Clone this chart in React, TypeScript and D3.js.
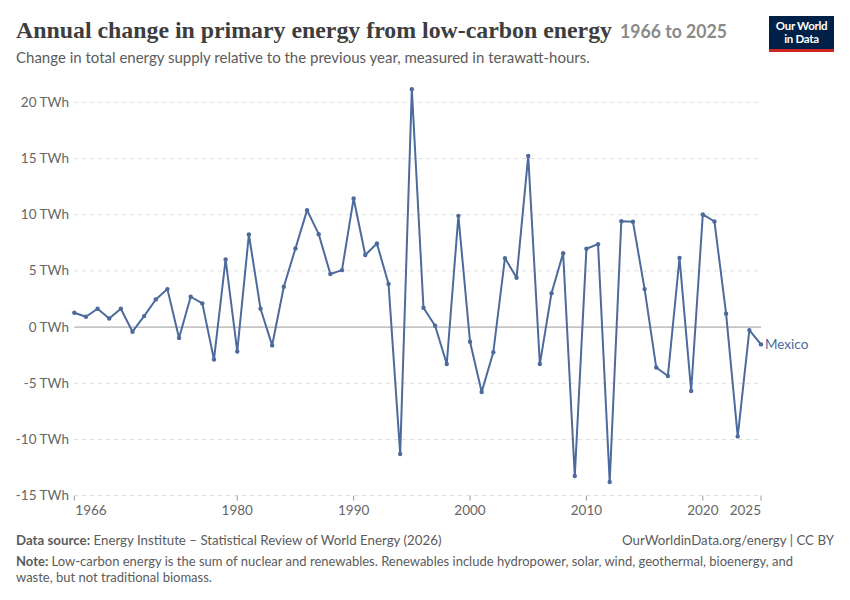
import React, { useRef, useEffect } from 'react';
import * as d3 from 'd3';

const years = d3.range(1966, 2026);
// Annual change in low-carbon primary energy, Mexico (TWh)
const values = [
  1.27, 0.92, 1.63, 0.77, 1.63, -0.41, 0.98, 2.46, 3.38, -0.98,
  2.7, 2.11, -2.88, 6.02, -2.17, 8.24, 1.63, -1.63, 3.59, 7.0,
  10.41, 8.27, 4.72, 5.07, 11.45, 6.41, 7.44, 3.83, -11.3, 21.17,
  1.72, 0.12, -3.29, 9.9, -1.3, -5.78, -2.24, 6.14, 4.39, 15.24,
  -3.29, 3.02, 6.58, -13.26, 6.97, 7.38, -13.79, 9.43, 9.37, 3.38,
  -3.6, -4.35, 6.15, -5.69, 10.03, 9.4, 1.19, -9.73, -0.27, -1.54,
];
const yTicks = [-15, -10, -5, 0, 5, 10, 15, 20];
const xTicks = [1966, 1980, 1990, 2000, 2010, 2020, 2025];
const seriesName = 'Mexico';

const W = 850;
const H = 600;
const LINE = '#4c6a9c';

const App: React.FC = () => {
  const ref = useRef<SVGSVGElement | null>(null);

  useEffect(() => {
    if (!ref.current) return;
    const svg = d3.select(ref.current);
    svg.selectAll('*').remove();

    const margin = { top: 102.4, right: 89, bottom: 104.4, left: 74.3 };
    const x = d3
      .scaleLinear()
      .domain([1966, 2025])
      .range([margin.left, W - margin.right]);
    const y = d3
      .scaleLinear()
      .domain([-15, 20])
      .range([H - margin.bottom, margin.top]);

    svg.append('rect').attr('width', W).attr('height', H).attr('fill', '#fff');

    // Header
    svg
      .append('text')
      .attr('x', 16)
      .attr('y', 38)
      .attr('font-family', 'Liberation Serif, serif')
      .attr('font-weight', 'bold')
      .attr('font-size', 24)
      .attr('fill', '#3d3d3d')
      .attr('textLength', 596)
      .attr('lengthAdjust', 'spacingAndGlyphs')
      .text('Annual change in primary energy from low-carbon energy');
    svg
      .append('text')
      .attr('x', 620)
      .attr('y', 38)
      .attr('font-family', 'Lato, sans-serif')
      .attr('font-weight', 'bold')
      .attr('font-size', 18)
      .attr('fill', '#8a8a8a')
      .attr('textLength', 107)
      .attr('lengthAdjust', 'spacingAndGlyphs')
      .text('1966 to 2025');
    svg
      .append('text')
      .attr('x', 16)
      .attr('y', 63)
      .attr('font-family', 'Lato, sans-serif')
      .attr('font-size', 15)
      .attr('fill', '#5b5b5b')
      .text(
        'Change in total energy supply relative to the previous year, measured in terawatt-hours.'
      );

    // Logo
    const logo = svg.append('g').attr('transform', 'translate(769,16)');
    logo.append('rect').attr('width', 65).attr('height', 36).attr('fill', '#002147');
    logo
      .append('rect')
      .attr('y', 33)
      .attr('width', 65)
      .attr('height', 3)
      .attr('fill', '#ce261e');
    logo
      .selectAll('text.logo')
      .data(['Our World', 'in Data'])
      .join('text')
      .attr('class', 'logo')
      .attr('x', 32.5)
      .attr('y', (_, i) => 14 + i * 13)
      .attr('text-anchor', 'middle')
      .attr('font-family', 'Lato, sans-serif')
      .attr('font-weight', 'bold')
      .attr('font-size', 11.5)
      .attr('letter-spacing', -0.3)
      .attr('fill', '#fff')
      .text((d) => d);

    // Grid
    svg
      .append('g')
      .selectAll('line')
      .data(yTicks.filter((t) => t !== 0))
      .join('line')
      .attr('x1', margin.left)
      .attr('x2', W - margin.right)
      .attr('y1', (d) => y(d))
      .attr('y2', (d) => y(d))
      .attr('stroke', '#dddddd')
      .attr('stroke-dasharray', '4,4');
    svg
      .append('line')
      .attr('x1', margin.left)
      .attr('x2', W - margin.right)
      .attr('y1', y(0))
      .attr('y2', y(0))
      .attr('stroke', '#9a9a9a')
      .attr('stroke-width', 1);

    // Y labels
    svg
      .append('g')
      .selectAll('text')
      .data(yTicks)
      .join('text')
      .attr('x', 69)
      .attr('y', (d) => y(d) + 4.5)
      .attr('text-anchor', 'end')
      .attr('font-family', 'Lato, sans-serif')
      .attr('font-size', 13.5)
      .attr('fill', '#666')
      .text((d) => `${d} TWh`);

    // X axis ticks and labels
    const xg = svg.append('g');
    xg.selectAll('line')
      .data(xTicks)
      .join('line')
      .attr('x1', (d) => x(d))
      .attr('x2', (d) => x(d))
      .attr('y1', y(-15))
      .attr('y2', y(-15) + 5)
      .attr('stroke', '#999');
    xg.selectAll('text')
      .data(xTicks)
      .join('text')
      .attr('x', (d, i) => x(d) + (i === 0 ? 1 : 0))
      .attr('y', y(-15) + 19)
      .attr('text-anchor', (_, i) =>
        i === 0 ? 'start' : i === xTicks.length - 1 ? 'end' : 'middle'
      )
      .attr('font-family', 'Lato, sans-serif')
      .attr('font-size', 13.5)
      .attr('fill', '#666')
      .text((d) => String(d));

    // Series
    const pts = years.map((yr, i) => ({ year: yr, value: values[i] }));
    svg
      .append('path')
      .datum(pts)
      .attr('fill', 'none')
      .attr('stroke', LINE)
      .attr('stroke-width', 2)
      .attr('stroke-linejoin', 'round')
      .attr(
        'd',
        d3
          .line<{ year: number; value: number }>()
          .x((d) => x(d.year))
          .y((d) => y(d.value))
      );
    svg
      .append('g')
      .selectAll('circle')
      .data(pts)
      .join('circle')
      .attr('cx', (d) => x(d.year))
      .attr('cy', (d) => y(d.value))
      .attr('r', 2.2)
      .attr('fill', LINE);

    const last = pts[pts.length - 1];
    svg
      .append('text')
      .attr('x', x(last.year) + 4)
      .attr('y', y(last.value) + 5)
      .attr('font-family', 'Lato, sans-serif')
      .attr('font-size', 13.5)
      .attr('fill', LINE)
      .text(seriesName);

    // Footer
    const foot = svg
      .append('g')
      .attr('font-family', 'Lato, sans-serif')
      .attr('font-size', 13)
      .attr('fill', '#5b5b5b');
    const src = foot
      .append('text')
      .attr('x', 16)
      .attr('y', 545)
      .attr('font-size', 13.3);
    src.append('tspan').attr('font-weight', 'bold').text('Data source:');
    src
      .append('tspan')
      .text(' Energy Institute – Statistical Review of World Energy (2026)');
    foot
      .append('text')
      .attr('x', 834)
      .attr('y', 545)
      .attr('text-anchor', 'end')
      .attr('font-size', 13.3)
      .text('OurWorldinData.org/energy | CC BY');
    const note = foot.append('text').attr('x', 16).attr('y', 566);
    note.append('tspan').attr('font-weight', 'bold').text('Note:');
    note
      .append('tspan')
      .text(
        ' Low-carbon energy is the sum of nuclear and renewables. Renewables include hydropower, solar, wind, geothermal, bioenergy, and'
      );
    foot
      .append('text')
      .attr('x', 16)
      .attr('y', 582)
      .text('waste, but not traditional biomass.');
  }, []);

  return (
    <svg
      ref={ref}
      width={W}
      height={H}
      style={{ position: 'absolute', left: 0, top: 0, display: 'block' }}
    />
  );
};

export default App;
